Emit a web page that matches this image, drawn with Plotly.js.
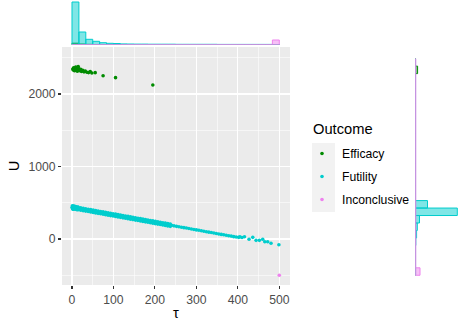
<!DOCTYPE html>
<html>
<head>
<meta charset="utf-8">
<script src="https://cdn.plot.ly/plotly-3.0.1.min.js"></script>
<style>body{margin:0;background:#fff} #plot{width:459px;height:329px}</style>
</head>
<body>
<div id="plot"></div>
<script>
// scatter: efficacy
const effTau = [2,3,4,5,6,7,8,9,10,11,12,13,14,15,16,17,19,21,23,26,29,32,36,40,44,48,56,75,105,195];
const effU = [2345,2330,2360,2340,2320,2355,2335,2370,2325,2345,2360,2315,2340,2380,2350,2330,2320,2340,2310,2325,2305,2315,2300,2295,2310,2290,2294,2252,2225,2124];

// scatter: futility (band, dense near tau = 0)
const futTau = [
  0,6,12,18,24,30,36,42,48,54,60,66,72,78,84,90,96,102,108,114,120,126,132,138,144,150,156,162,168,174,180,186,192,198,204,210,216,222,228,234,240,246,252,258,264,270,276,282,288,294,300,306,312,318,324,330,336,342,348,354,360,366,372,378,384,390,396,
  3,9,15,21,27,33,39,45,51,57,63,69,75,81,87,93,99,105,111,117,123,129,135,141,147,153,159,165,171,177,183,189,195,201,207,213,219,225,231,237,
  3,9,15,21,27,33,39,45,51,57,63,69,75,81,87,93,99,105,111,117,123,129,135,141,147,153,159,165,171,177,183,189,195,201,207,213,219,225,231,237,
  1,2,4,5,7,10,12,14,
  402,405,410,416,427,436,444,452,460,465,472,480,499];
const futU = [
  435,429,423,416,410,404,398,392,386,379,373,367,361,355,348,342,336,330,324,318,311,305,299,293,287,280,274,268,262,256,250,243,237,231,225,219,212,206,200,194,188,182,175,169,163,157,151,145,138,132,126,120,114,107,101,95,89,83,77,70,64,58,52,46,40,33,27,
  448,442,436,429,423,417,411,405,398,392,386,380,374,368,361,355,349,343,337,331,324,318,312,306,300,293,287,281,275,269,262,256,250,244,238,232,225,219,213,207,
  416,410,404,397,391,385,379,373,367,360,354,348,342,336,329,323,317,311,305,299,292,286,280,274,268,261,255,249,243,237,231,224,218,212,206,200,193,187,181,175,
  458,412,455,411,452,446,405,440,
  23,30,20,32,-4,23,-18,-18,-4,-37,-37,-59,-79];

// scatter: inconclusive
const incTau = [500];
const incU = [-500];

// top marginal histogram (tau), 30 bins
const tauBins = [8.33,25,41.67,58.33,75,91.67,108.33,125,141.67,158.33,175,191.67,208.33,225,241.67,258.33,275,291.67,308.33,325,341.67,358.33,375,391.67,408.33,425,441.67,458.33,475,491.67];
const tauBinW = 16.67;
const tauCntEff = [15,7,4,1,1,0,1,0,0,0,0,1,0,0,0,0,0,0,0,0,0,0,0,0,0,0,0,0,0,0];
const tauCntFut = [427,127,54,34,20,14,12,8,7,6,6,5,5,5,5,4,4,4,4,4,4,3,3,3,3,3,3,3,3,2];
const tauCntInc = [0,0,0,0,0,0,0,0,0,0,0,0,0,0,0,0,0,0,0,0,0,0,0,0,0,0,0,0,0,47];

// right marginal histogram (U), 29 bins
const uBins = [-448.5,-345.5,-242.5,-139.5,-36.5,66.5,169.5,272.5,375.5,478.5,581.5,684.5,787.5,890.5,993.5,1096.5,1199.5,1302.5,1405.5,1508.5,1611.5,1714.5,1817.5,1920.5,2023.5,2126.5,2229.5,2332.5,2435.5];
const uBinW = 103;
const uCntEff = [0,0,0,0,0,0,0,0,0,0,0,0,0,0,0,0,0,0,0,0,0,0,0,0,0,1,2,23,2];
const uCntFut = [0,0,0,0,5,13,20,42,420,122,0,0,0,0,0,0,0,0,0,0,0,0,0,0,0,0,0,0,0];
const uCntInc = [47,0,0,0,0,0,0,0,0,0,0,0,0,0,0,0,0,0,0,0,0,0,0,0,0,0,0,0,0];

const col = {eff:'#008B00', fut:'#00CDCD', inc:'#EE82EE'};
const fill = {eff:'rgba(0,139,0,0.5)', fut:'rgba(0,205,205,0.5)', inc:'rgba(238,130,238,0.5)'};
const FONT = 'Liberation Sans, Arial, sans-serif';
const W = 459, H = 329;
const xRange = [-24.1, 525.8];
const yRange = [-634, 2648];
const xDom = [62/W, 290/W];
const yDom = [1-285/H, 1-47/H];

const pts = (x, y, name, c) => ({x, y, name, type:'scatter', mode:'markers', legendgroup:name,
  marker:{color:c, size:3.6}, xaxis:'x', yaxis:'y', hoverinfo:'skip'});
const topBar = (y, c, f) => ({x:tauBins, y, width:tauBinW, type:'bar', xaxis:'x2', yaxis:'y2',
  marker:{color:f, line:{color:c, width:1}}, showlegend:false, hoverinfo:'skip'});
const sideBar = (x, c, f) => ({y:uBins, x, width:uBinW, type:'bar', orientation:'h', xaxis:'x3', yaxis:'y3',
  marker:{color:f, line:{color:c, width:1}}, showlegend:false, hoverinfo:'skip'});

const data = [
  pts(effTau, effU, 'Efficacy', col.eff),
  pts(futTau, futU, 'Futility', col.fut),
  pts(incTau, incU, 'Inconclusive', col.inc),
  topBar(tauCntEff, col.eff, fill.eff),
  topBar(tauCntFut, col.fut, fill.fut),
  topBar(tauCntInc, col.inc, fill.inc),
  sideBar(uCntEff, col.eff, fill.eff),
  sideBar(uCntFut, col.fut, fill.fut),
  sideBar(uCntInc, col.inc, fill.inc)
];

const axisStyle = {
  showgrid:true, gridcolor:'#FFFFFF', gridwidth:1.1, zeroline:false, showline:false,
  ticks:'outside', ticklen:3, tickwidth:1.1, tickcolor:'#333333',
  tickfont:{family:FONT, size:12.2, color:'#4D4D4D'}
};

const layout = {
  width:W, height:H, margin:{l:0, r:0, t:0, b:0},
  paper_bgcolor:'#FFFFFF', plot_bgcolor:'#FFFFFF',
  barmode:'overlay', bargap:0,
  font:{family:FONT, color:'#000000'},
  xaxis: Object.assign({}, axisStyle, {domain:xDom, range:xRange, anchor:'y',
    tickvals:[0,100,200,300,400,500],
    minor:{tickvals:[50,150,250,350,450], showgrid:true, gridcolor:'#FFFFFF', gridwidth:0.55, ticks:''},
    title:{text:'τ', font:{size:14.7, color:'#000000'}, standoff:2}}),
  yaxis: Object.assign({}, axisStyle, {domain:yDom, range:yRange, anchor:'x',
    tickvals:[0,1000,2000],
    minor:{tickvals:[-500,500,1500,2500], showgrid:true, gridcolor:'#FFFFFF', gridwidth:0.55, ticks:''},
    title:{text:'U', font:{size:14.7, color:'#000000'}, standoff:5}}),
  xaxis2:{domain:xDom, range:xRange, anchor:'y2', visible:false},
  yaxis2:{domain:[1-44.7/H, 1], range:[0, 447], anchor:'x2', visible:false},
  xaxis3:{domain:[415.3/W, 1], range:[0, 437], anchor:'y3', visible:false},
  yaxis3:{domain:yDom, range:yRange, anchor:'x3', visible:false},
  legend:{x:302/W, xanchor:'left', y:1-139/H, yanchor:'top', bgcolor:'rgba(0,0,0,0)',
    font:{family:FONT, size:12.2, color:'#000000'}, itemsizing:'trace',
    tracegroupgap:4, traceorder:'grouped'},
  annotations:[
    {text:'Outcome', xref:'paper', yref:'paper', x:311/W, y:1-129/H, xanchor:'left', yanchor:'middle',
      showarrow:false, font:{family:FONT, size:14.7, color:'#000000'}}
  ],
  shapes:[
    {type:'rect', xref:'x domain', yref:'y domain', x0:0, x1:1, y0:0, y1:1,
      fillcolor:'#EBEBEB', line:{width:0}, layer:'below'},
    {type:'rect', xref:'paper', yref:'paper', x0:312/W, x1:335/W, y0:1-212/H, y1:1-143/H,
      fillcolor:'#F2F2F2', line:{width:0}, layer:'below'},
    {type:'line', xref:'x2', yref:'y2', x0:tauBins[0]-tauBinW/2, x1:tauBins[tauBins.length-1]+tauBinW/2, y0:0, y1:0,
      line:{color:'rgba(185,150,215,0.9)', width:1.5}},
    {type:'line', xref:'x3', yref:'y3', x0:0, x1:0, y0:uBins[0]-uBinW/2, y1:uBins[uBins.length-1]+uBinW/2,
      line:{color:'rgba(200,150,225,0.95)', width:2}}
  ]
};

Plotly.newPlot('plot', data, layout, {staticPlot:true});
</script>
</body>
</html>
